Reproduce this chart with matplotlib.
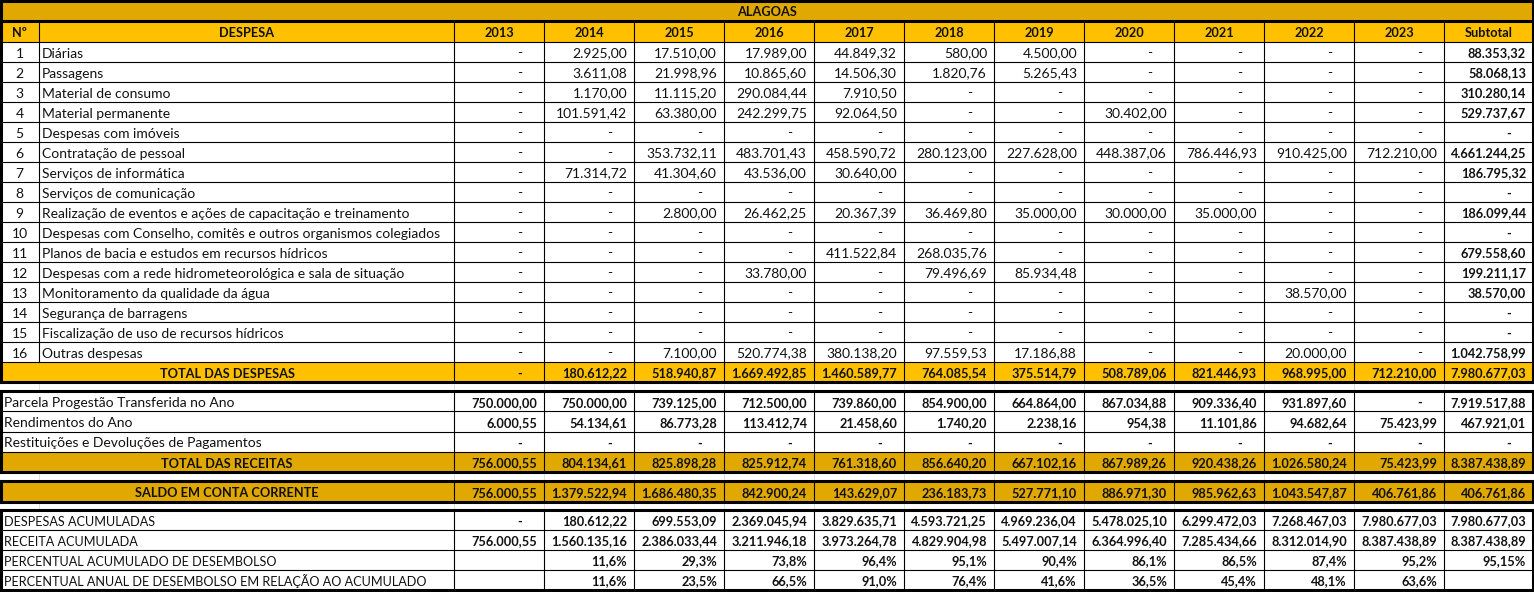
import matplotlib.pyplot as plt
from matplotlib.patches import Rectangle

plt.rcParams['font.family'] = ['Lato', 'DejaVu Sans']

# Dados (None = "-")
anos = ['2013', '2014', '2015', '2016', '2017', '2018', '2019', '2020', '2021', '2022', '2023']

despesas = [
    'Diárias',
    'Passagens',
    'Material de consumo',
    'Material permanente',
    'Despesas com imóveis',
    'Contratação de pessoal',
    'Serviços de informática',
    'Serviços de comunicação',
    'Realização de eventos e ações de capacitação e treinamento',
    'Despesas com Conselho, comitês e outros organismos colegiados',
    'Planos de bacia e estudos em recursos hídricos',
    'Despesas com a rede hidrometeorológica e sala de situação',
    'Monitoramento da qualidade da água',
    'Segurança de barragens',
    'Fiscalização de uso de recursos hídricos',
    'Outras despesas',
]

N = None
valores = [
    [N, 2925.00, 17510.00, 17989.00, 44849.32, 580.00, 4500.00, N, N, N, N],
    [N, 3611.08, 21998.96, 10865.60, 14506.30, 1820.76, 5265.43, N, N, N, N],
    [N, 1170.00, 11115.20, 290084.44, 7910.50, N, N, N, N, N, N],
    [N, 101591.42, 63380.00, 242299.75, 92064.50, N, N, 30402.00, N, N, N],
    [N, N, N, N, N, N, N, N, N, N, N],
    [N, N, 353732.11, 483701.43, 458590.72, 280123.00, 227628.00, 448387.06, 786446.93, 910425.00, 712210.00],
    [N, 71314.72, 41304.60, 43536.00, 30640.00, N, N, N, N, N, N],
    [N, N, N, N, N, N, N, N, N, N, N],
    [N, N, 2800.00, 26462.25, 20367.39, 36469.80, 35000.00, 30000.00, 35000.00, N, N],
    [N, N, N, N, N, N, N, N, N, N, N],
    [N, N, N, N, 411522.84, 268035.76, N, N, N, N, N],
    [N, N, N, 33780.00, N, 79496.69, 85934.48, N, N, N, N],
    [N, N, N, N, N, N, N, N, N, 38570.00, N],
    [N, N, N, N, N, N, N, N, N, N, N],
    [N, N, N, N, N, N, N, N, N, N, N],
    [N, N, 7100.00, 520774.38, 380138.20, 97559.53, 17186.88, N, N, 20000.00, N],
]
subtotais = [88353.32, 58068.13, 310280.14, 529737.67, N, 4661244.25, 186795.32, N,
             186099.44, N, 679558.60, 199211.17, 38570.00, N, N, 1042758.99]

total_despesas = [N, 180612.22, 518940.87, 1669492.85, 1460589.77, 764085.54, 375514.79,
                  508789.06, 821446.93, 968995.00, 712210.00, 7980677.03]

receitas = ['Parcela Progestão Transferida no Ano', 'Rendimentos do Ano',
            'Restituições e Devoluções de Pagamentos']
valores_receitas = [
    [750000.00, 750000.00, 739125.00, 712500.00, 739860.00, 854900.00, 664864.00,
     867034.88, 909336.40, 931897.60, N, 7919517.88],
    [6000.55, 54134.61, 86773.28, 113412.74, 21458.60, 1740.20, 2238.16,
     954.38, 11101.86, 94682.64, 75423.99, 467921.01],
    [N, N, N, N, N, N, N, N, N, N, N, N],
]
total_receitas = [756000.55, 804134.61, 825898.28, 825912.74, 761318.60, 856640.20, 667102.16,
                  867989.26, 920438.26, 1026580.24, 75423.99, 8387438.89]
saldo = [756000.55, 1379522.94, 1686480.35, 842900.24, 143629.07, 236183.73, 527771.10,
         886971.30, 985962.63, 1043547.87, 406761.86, 406761.86]

despesas_acum = [N, 180612.22, 699553.09, 2369045.94, 3829635.71, 4593721.25, 4969236.04,
                 5478025.10, 6299472.03, 7268467.03, 7980677.03, 7980677.03]
receita_acum = [756000.55, 1560135.16, 2386033.44, 3211946.18, 3973264.78, 4829904.98,
                5497007.14, 6364996.40, 7285434.66, 8312014.90, 8387438.89, 8387438.89]
perc_acum = [N, 11.6, 29.3, 73.8, 96.4, 95.1, 90.4, 86.1, 86.5, 87.4, 95.2, 95.15]
perc_anual = [N, 11.6, 23.5, 66.5, 91.0, 76.4, 41.6, 36.5, 45.4, 48.1, 63.6, N]

# Layout
W, H = 1534, 592
xs = [0, 39, 454, 544, 634, 724, 814, 904, 994, 1084, 1174, 1264, 1354, 1444, 1533]
OURO = '#FFC000'
OURO_ESC = '#E0A800'
FS = 10
FSB = 9.2
FSU = 9.1  # rótulos em caixa alta
DY = 1.5  # ajuste vertical do texto

fig = plt.figure(figsize=(W / 100, H / 100), dpi=100)
ax = fig.add_axes([0, 0, 1, 1])
ax.set_xlim(0, W)
ax.set_ylim(H, 0)
ax.axis('off')


def br(v, casas=2):
    s = f"{v:,.{casas}f}"
    return s.replace(',', 'X').replace('.', ',').replace('X', '.')


def txt(x, y, s, ha='left', bold=False, fs=None):
    if fs is None:
        fs = FSB if bold else FS
    ax.text(x, y + DY, s, ha=ha, va='center', fontsize=fs,
            fontweight='bold' if bold else 'normal', color='#111111')


def fundo(y0, y1, cor, x0=0, x1=xs[-1]):
    ax.add_patch(Rectangle((x0, y0), x1 - x0, y1 - y0, color=cor, lw=0, zorder=0))


def hl(y, lw=0.8, x0=0, x1=xs[-1], cor='black'):
    ax.plot([x0, x1], [y, y], color=cor, lw=lw, solid_capstyle='projecting', zorder=2)


def vl(x, y0, y1, lw=0.8, cor='black'):
    ax.plot([x, x], [y0, y1], color=cor, lw=lw, solid_capstyle='projecting', zorder=2)


def caixa(y0, y1):
    for y in (y0, y1):
        hl(y, lw=2.2)
    for x in (xs[0] + 1, xs[-1]):
        vl(x, y0, y1, lw=2.2)


def celula(i, y, v, bold=False, pct=None):
    x1 = xs[i + 3]
    if v is None:
        if pct is None:
            txt(x1 - 24, y, '-', ha='center', bold=bold)
        return
    s = br(v, pct) + '%' if pct is not None else br(v)
    txt(x1 - 7, y, s, ha='right', bold=bold)


def linha_valores(y, vals, bold=False, bold_sub=True, pct=False):
    for i, v in enumerate(vals):
        b = bold or (bold_sub and i == len(vals) - 1)
        if pct:
            celula(i, y, v, b, pct=2 if i == len(vals) - 1 else 1)
        else:
            celula(i, y, v, b)


# grade clara do Excel nos espaços
for (g0, g1) in ((382, 391), (472, 481), (502, 510)):
    for x in xs[1:-1]:
        vl(x, g0, g1, lw=0.6, cor='#D9D9D9')

# Bloco 1: despesas
fundo(1, 21, OURO_ESC)
fundo(21, 42, OURO)
fundo(362, 382, OURO)
txt(767, 11, 'ALAGOAS', ha='center', bold=True)
txt(19.5, 31.5, 'Nº', ha='center', bold=True)
txt((xs[1] + xs[2]) / 2, 31.5, 'DESPESA', ha='center', bold=True)
for i, a in enumerate(anos + ['Subtotal']):
    txt((xs[i + 2] + xs[i + 3]) / 2, 31.5, a, ha='center', bold=True)

for r, nome in enumerate(despesas):
    y0 = 42 + 20 * r
    yc = y0 + 10
    txt(19.5, yc, str(r + 1), ha='center')
    txt(xs[1] + 3, yc, nome)
    linha_valores(yc, valores[r] + [subtotais[r]])
    hl(y0)
hl(362)
txt(227, 372, 'TOTAL DAS DESPESAS', ha='center', bold=True)
linha_valores(372, total_despesas, bold=True)
for x in xs[1:-1]:
    vl(x, 21, 362 if x == xs[1] else 382)
caixa(1, 382)
hl(21, lw=2.2)

# Bloco 2: receitas
fundo(452, 472, OURO_ESC)
for r, nome in enumerate(receitas):
    y0 = 391 + 20.3 * r
    yc = y0 + 10.2
    txt(4, yc, nome)
    linha_valores(yc, valores_receitas[r], bold=True)
    if r > 0:
        hl(y0)
hl(452)
txt(227, 462, 'TOTAL DAS RECEITAS', ha='center', bold=True)
linha_valores(462, total_receitas, bold=True)
for x in xs[2:-1]:
    vl(x, 391, 472)
caixa(391, 472)

# Bloco 3: saldo
fundo(481, 502, OURO_ESC)
txt(227, 491.5, 'SALDO EM CONTA CORRENTE', ha='center', bold=True)
linha_valores(491.5, saldo, bold=True)
for x in xs[2:-1]:
    vl(x, 481, 502)
caixa(481, 502)

# Bloco 4: acumulados
acum = [('DESPESAS ACUMULADAS', despesas_acum, False),
        ('RECEITA ACUMULADA', receita_acum, False),
        ('PERCENTUAL ACUMULADO DE DESEMBOLSO', perc_acum, True),
        ('PERCENTUAL ANUAL DE DESEMBOLSO EM RELAÇÃO AO ACUMULADO', perc_anual, True)]
for r, (nome, vals, pct) in enumerate(acum):
    y0 = 510 + 20 * r
    yc = y0 + 10
    txt(4, yc, nome, fs=FSU)
    linha_valores(yc, vals, bold=True, pct=pct)
    if r > 0:
        hl(y0)
for x in xs[2:-1]:
    vl(x, 510, 590)
caixa(510, 590)

fig.savefig('out.png', dpi=100)
